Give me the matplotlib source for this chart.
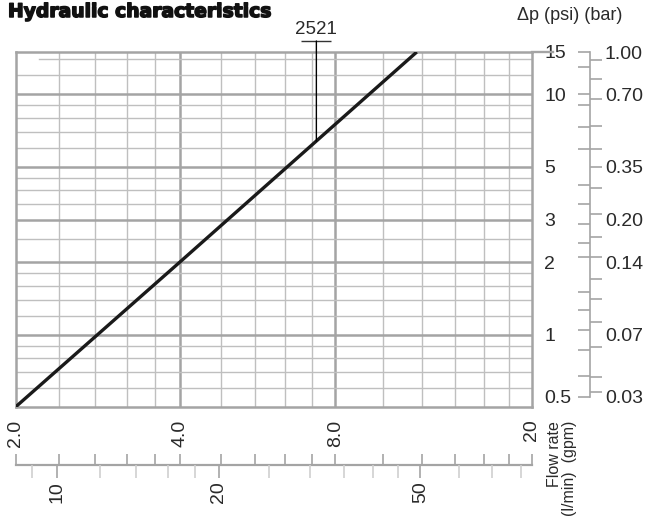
import matplotlib; matplotlib.use("Agg")
import matplotlib.pyplot as plt
import matplotlib.patheffects as pe
from matplotlib.ticker import NullFormatter, NullLocator
import numpy as np

plt.rcParams.update({"font.family": ["Liberation Sans", "DejaVu Sans"], "font.size": 14})
GRID = "#bfbfbf"; MAJ = "#a4a4a4"; TXT = "#2a2a2a"; CURVE = "#1a1a1a"

# ---- data ----
flow_gpm = [2.0, 4.0, 11.7]          # curve 2521
dp_psi = [0.5, 2.0, 15.0]
tag_gpm = 7.35                       # where the "2521" leader meets the curve

gpm_labels = [2, 4, 8, 20]
gpm_text = ["2.0", "4.0", "8.0", "20"]
gpm_major = [4, 8]
gpm_grid = [2.4, 2.8, 3.2, 3.6, 4.8, 5.6, 6.4, 7.2, 10, 12, 14, 16, 18]
lpm_labels = [10, 20, 50]
lpm_minor = [9, 12, 14, 16, 18, 25, 30, 35, 40, 45, 60, 70, 80]
psi_labels = [0.5, 1, 2, 3, 5, 10, 15]
psi_major = [1, 2, 3, 5, 10]
psi_minor = [0.6, 0.7, 0.8, 0.9, 1.2, 1.4, 1.6, 1.8, 2.5, 3.5, 4, 4.5, 6, 7, 8, 9, 12, 14]
bar_labels = ["0.03", "0.07", "0.14", "0.20", "0.35", "0.70", "1.00"]
bar_side = [0.96, 0.80, 0.66, 0.51, 0.41, 0.345, 0.28, 0.22, 0.175, 0.145,
            0.117, 0.097, 0.078, 0.061, 0.046, 0.040]
psi_side = [15, 13, 10, 9, 7.3, 5.9, 4.2, 3.5, 2.9, 2.4, 2.1, 1.5, 1.27, 1.05, 0.86, 0.67, 0.55]
PSI_PER_BAR = 14.5
LPM_PER_GPM = 4.2    # how the two flow scales line up on the drawing

# the printed gpm scale is only roughly logarithmic: piecewise-log through its labels
G_KN = np.log10([2, 4, 8, 20]); U_KN = [0.0, 0.318, 0.620, 1.0]
def fwd(g): return np.interp(np.log10(np.clip(g, 1e-6, None)), G_KN, U_KN)
def inv(u): return 10 ** np.interp(u, U_KN, G_KN)
def fwd_l(l): return fwd(np.asarray(l) / LPM_PER_GPM)
def inv_l(u): return inv(u) * LPM_PER_GPM

W, H = 650, 518
def box(l, t, r, b): return [l / W, 1 - b / H, (r - l) / W, (b - t) / H]
fig = plt.figure(figsize=(W / 100, H / 100), dpi=100)

# ---- main chart ----
ax = fig.add_axes(box(15.5, 52, 531.5, 407))
ax.set_xscale("function", functions=(fwd, inv)); ax.set_yscale("log")
for g in gpm_grid: ax.axvline(g, color=GRID, lw=1.0, zorder=1)
for g in gpm_major: ax.axvline(g, color=MAJ, lw=1.8, zorder=1)
for p in psi_minor: ax.axhline(p, xmin=0.045 if p == 14 else 0, color=GRID, lw=1.0, zorder=1)
for p in psi_major: ax.axhline(p, color=MAJ, lw=1.8, zorder=1)
ax.plot(flow_gpm, dp_psi, color=CURVE, lw=2.4, solid_capstyle="butt", zorder=3)
ax.set_xlim(2, 20); ax.set_ylim(0.5, 15)
for s in ax.spines.values(): s.set_color(MAJ); s.set_linewidth(1.8)
ax.plot([1, 1.042], [1, 1], transform=ax.transAxes, color=MAJ, lw=1.7, clip_on=False)

ax.set_xticks(gpm_labels, labels=gpm_text)
ax.xaxis.set_minor_locator(NullLocator())
ax.tick_params(axis="x", length=0, pad=9, labelrotation=90, labelcolor=TXT)
ax.yaxis.tick_right()
ax.set_yticks(psi_labels, labels=[f"{p:g}" for p in psi_labels])
ax.yaxis.set_minor_locator(NullLocator())
ax.tick_params(axis="y", length=0, pad=9, labelcolor=TXT)
ax.yaxis.get_major_ticks()[0].label2.set_va("bottom")

# "2521" tag
u = fwd(np.array(flow_gpm))
tag_psi = 10 ** np.interp(fwd(tag_gpm), u, np.log10(dp_psi))
xt = ax.get_xaxis_transform()
ax.annotate("", xy=(tag_gpm, tag_psi), xytext=(tag_gpm, 1.031), textcoords=xt,
            arrowprops=dict(arrowstyle="-", color="k", lw=1, shrinkA=0, shrinkB=0))
ax.plot([tag_gpm], [1.031], marker="_", ms=21.6, mew=1, color="#333333", transform=xt, clip_on=False)
ax.text(tag_gpm, 1.039, "2521", transform=xt, ha="center", va="bottom", fontsize=13.5, color=TXT)

# ---- flow scales below ----
axQ = fig.add_axes(box(15.5, 464, 531.5, 465))
axQ.set_xscale("function", functions=(fwd, inv)); axQ.set_xlim(2, 20)
axQ.set_yticks([]); axQ.patch.set_visible(False)
for s in ("top", "left", "right"): axQ.spines[s].set_visible(False)
axQ.spines["bottom"].set_color(MAJ); axQ.spines["bottom"].set_linewidth(1.6)
axQ.set_xticks(sorted(gpm_labels + gpm_grid))
axQ.xaxis.set_minor_locator(NullLocator())
axQ.tick_params(axis="x", direction="in", length=8, width=1.2, color=MAJ, labelbottom=False)

axL = fig.add_axes(box(15.5, 464, 531.5, 465))
axL.set_xscale("function", functions=(fwd_l, inv_l)); axL.set_xlim(2 * LPM_PER_GPM, 20 * LPM_PER_GPM)
axL.set_yticks([]); axL.patch.set_visible(False)
for s in axL.spines.values(): s.set_visible(False)
axL.set_xticks(lpm_labels, labels=[str(v) for v in lpm_labels])
axL.set_xticks(lpm_minor, minor=True); axL.xaxis.set_minor_formatter(NullFormatter())
axL.tick_params(axis="x", which="both", direction="out", length=9, width=1.2, pad=2.5,
                labelrotation=90, labelcolor=TXT)
axL.tick_params(axis="x", which="major", color=MAJ)
axL.tick_params(axis="x", which="minor", color="#cfcfcf")

fig.text(562 / W, 1 - 421 / H, "Flow rate\n(l/min)  (gpm)", rotation=90, ha="center", va="top",
         multialignment="right", fontsize=11.5, linespacing=1.0, color=TXT)

# ---- pressure scale (psi | bar) on the right ----
axB = fig.add_axes(box(589.5, 52, 589.6, 407))
axB.set_yscale("log"); axB.set_ylim(0.5, 15); axB.set_xticks([]); axB.patch.set_visible(False)
for s in ("top", "bottom", "right"): axB.spines[s].set_visible(False)
axB.spines["left"].set_color(MAJ); axB.spines["left"].set_linewidth(1.2)
axB.spines["left"].set_bounds(min(psi_side), max(psi_side))
axB.set_yticks(psi_side)
axB.yaxis.set_major_formatter(NullFormatter()); axB.yaxis.set_minor_locator(NullLocator())
axB.tick_params(axis="y", direction="out", length=8.6, width=1.2, color=MAJ)

axR = axB.twinx()
axR.set_yscale("log"); axR.set_ylim(0.5, 15)
for s in axR.spines.values(): s.set_visible(False)
axR.set_yticks(psi_labels, labels=bar_labels)
axR.set_yticks(np.array(bar_side) * PSI_PER_BAR, minor=True)
axR.yaxis.set_minor_formatter(NullFormatter())
axR.tick_params(axis="y", which="major", length=0, pad=11, labelcolor=TXT)
axR.tick_params(axis="y", which="minor", direction="out", length=8.6, width=1.2, color=MAJ)
axR.yaxis.get_major_ticks()[0].label2.set_va("bottom")

# ---- headings ----
fig.text(8 / W, 1 - 17 / H, "Hydraulic characteristics", family="DejaVu Sans",
         fontweight="bold", fontsize=13.5, va="baseline", color="#111111",
         path_effects=[pe.withStroke(linewidth=1.1, foreground="#111111")])
fig.text(517 / W, 1 - 15.5 / H, "Δp (psi) (bar)", fontsize=13, va="center", color=TXT)

fig.savefig("out.png", dpi=100)
